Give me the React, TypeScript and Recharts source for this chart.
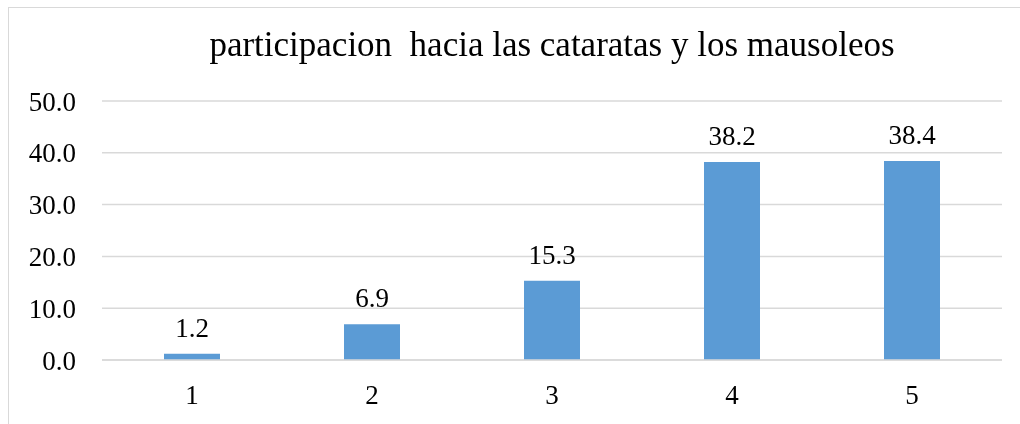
import { BarChart, Bar, XAxis, YAxis, CartesianGrid, LabelList } from "recharts";

const categories = ["1", "2", "3", "4", "5"];
const values = [1.2, 6.9, 15.3, 38.2, 38.4];
const yTicks = [0, 10, 20, 30, 40, 50];

const data = categories.map((name, i) => ({ name, value: values[i] }));

const FONT = "'Liberation Serif', 'Times New Roman', serif";
const GRID = "#d9d9d9";

export default function App() {
  return (
    <div style={{ position: "relative", marginTop: -1, width: 1003, height: 408, fontFamily: FONT }}>
      <style>{`.recharts-wrapper text { font-family: ${FONT} !important; }`}</style>
      {/* frame: fixed so it runs past the window without scrollbars */}
      <div
        style={{
          position: "fixed",
          left: 8,
          top: 7,
          width: 1040,
          height: 440,
          border: `1px solid ${GRID}`,
          pointerEvents: "none",
        }}
      />
      <svg
        width={1003}
        height={80}
        style={{ position: "absolute", left: 1, top: 1, pointerEvents: "none" }}
      >
        <text x={543} y={48} textAnchor="middle" fontFamily={FONT} fontSize={35} fill="#000" style={{ whiteSpace: "pre" }}>
          participacion  hacia las cataratas y los mausoleos
        </text>
      </svg>
      <div style={{ position: "absolute", left: 1, top: 1 }}>
        <BarChart width={1003} height={408} data={data} margin={{ top: 93, right: 10, left: 0, bottom: 0 }}>
          <CartesianGrid stroke={GRID} strokeWidth={1.5} vertical={false} />
          <XAxis
            dataKey="name"
            height={56}
            axisLine={{ stroke: GRID, strokeWidth: 1.5 }}
            tickLine={false}
            tickSize={0}
            tickMargin={25}
            tick={{ fontSize: 27, fill: "#000" }}
          />
          <YAxis
            width={93}
            domain={[0, 50]}
            ticks={yTicks}
            axisLine={false}
            tickLine={false}
            tickSize={0}
            tickMargin={26}
            tickFormatter={(v: number) => v.toFixed(1)}
            tick={{ fontSize: 27, fill: "#000" }}
          />
          <Bar dataKey="value" fill="#5b9bd5" barSize={56} isAnimationActive={false}>
            <LabelList
              dataKey="value"
              position="top"
              offset={17}
              formatter={(v: number) => v.toFixed(1)}
              style={{ fontSize: 27, fill: "#000" }}
            />
          </Bar>
        </BarChart>
      </div>
    </div>
  );
}
